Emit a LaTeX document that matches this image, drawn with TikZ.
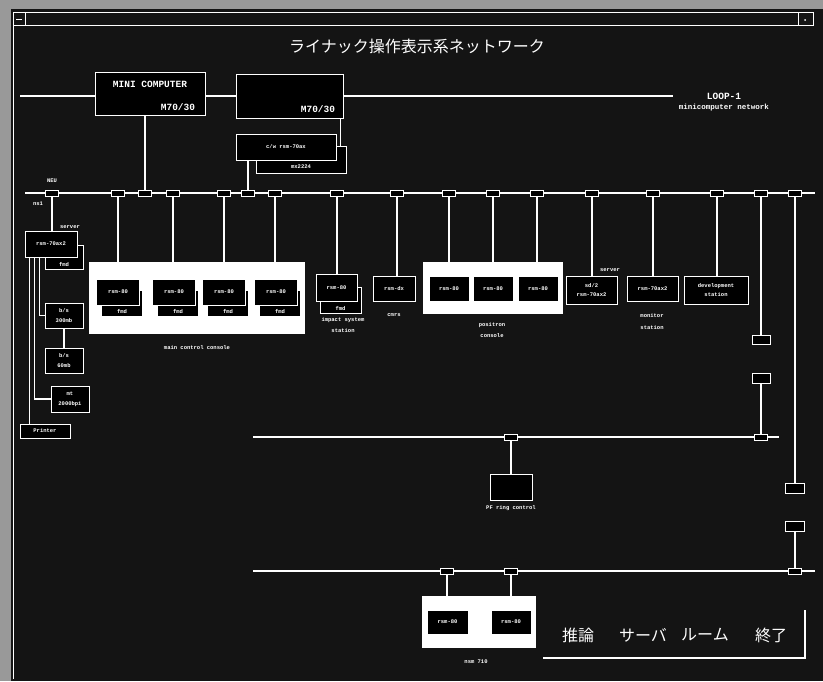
\documentclass[tikz,border=0pt]{standalone}
\usepackage{fontspec}
\setmonofont{Liberation Mono}
\newfontfamily\jpfont{Noto Sans CJK JP}

\begin{document}
\begin{tikzpicture}[x=1pt,y=-1pt,
  sz/.style 2 args={minimum width=#1pt, minimum height=#2pt},
  box/.style={draw=white, line width=1pt, fill=black, inner sep=0pt, align=center, text=white, font=\ttfamily\bfseries\fontsize{5.5}{6.5}\selectfont},
  tap/.style={draw=white, line width=0.9pt, fill=black, minimum width=13pt, minimum height=6pt, inner sep=0pt},
  sbox/.style={draw=white, line width=0.9pt, fill=black, inner sep=0pt},
  panel/.style={fill=white, inner sep=0pt},
  lbl/.style={text=white, inner sep=0pt, align=center, font=\ttfamily\bfseries\fontsize{5.5}{6.5}\selectfont},
  big/.style={font=\ttfamily\bfseries\fontsize{9.5}{10}\selectfont},
  wire/.style={white, line width=1.2pt},
  bus/.style={white, line width=2.4pt},
  jp/.style={text=white, inner sep=0pt, font=\jpfont\fontsize{16}{16}\selectfont}]
\useasboundingbox (0,0) rectangle (823,681);
\fill[black!40] (0,0) rectangle (823,681);
\fill[black!92] (11,9) rectangle (823,681);
\draw[white, line width=1pt] (13,12) -- (813,12) (13,25) -- (813,25) (13,12) -- (13,679);
\draw[white, line width=1pt] (13,12) rectangle (25,25) (798,12) rectangle (813,25) (16,19) -- (22,19);
\fill[white] (805,20) circle (1pt);

\node[jp] (title) at (417,46) {ライナック操作表示系ネットワーク};

% loop-1
\coordinate (loopW) at (20,96);
\coordinate (loopE) at (673,96);
\node[box, sz={110}{43}] (mini) at (150,93.5) {};
\node[lbl, big] at (150,84) {MINI COMPUTER};
\node[lbl, big] at (178,107) {M70/30};
\node[box, sz={107}{44}] (m2) at (289.5,96) {};
\node[lbl, big] at (318,109) {M70/30};
\draw[bus] (loopW) -- (loopW -| mini.west) (mini.east |- loopW) -- (m2.west |- loopW) (m2.east |- loopW) -- (loopE);
\node[lbl, big] at (724,96) {LOOP-1};
\node[lbl, font=\ttfamily\bfseries\fontsize{7.5}{8}\selectfont] at (724,108) {minicomputer network};

\node[box, sz={90}{27}] (mx) at (301,159.5) {};
\node[lbl] at (301,167) {mx2224};
\node[box, sz={100}{26}] (cw) at (286,147) {c/w rsm-70ax};
\draw[wire] ([xshift=-3pt]m2.south east) -- ([xshift=-3pt]m2.south east |- mx.north);

% main bus
\coordinate (busW) at (25,193);
\coordinate (busE) at (815,193);
\draw[bus] (busW) -- (busE);
\foreach \x [count=\i] in {52,118,145,173,224,248,275,337,397,449,493,537,592,653,717,761,795}
  \node[tap] (t\i) at (\x,193) {};
\draw[wire] (mini.south -| t3) -- (t3.north);
\draw[wire] (cw.south -| t6) -- (t6.north);
\node[lbl] at (52,181) {NEU};
\node[lbl] at (38,204) {ns1};

% server side
\node[box, sz={38}{24}] (sfmd) at (64,257) {};
\node[lbl] at (64,264) {fmd};
\node[box, sz={52}{26}] (srv) at (51,244) {rsm-70ax2};
\node[lbl] at (70,227) {server};
\draw[wire] (t1.south) -- (t1 |- srv.north);
\node[box, sz={38}{25}] (bs1) at (64,315.5) {b/s\\[3pt]300mb};
\node[box, sz={38}{25}] (bs2) at (64,360.5) {b/s\\[3pt]60mb};
\node[box, sz={38}{26}] (mt) at (70,399) {mt\\[3pt]2000bpi};
\node[box, sz={50}{14}] (prt) at (45,431) {Printer};
\draw[wire] (bs1.south) -- (bs2.north);
\draw[wire] ([xshift=5pt]srv.south west) -- ([xshift=5pt]srv.south west |- prt.north);
\draw[wire] ([xshift=10pt]srv.south west) |- (mt.west);
\draw[wire] ([xshift=15pt]srv.south west) |- (bs1.west);

% main control console
\node[panel, sz={216}{72}] (mcc) at (197,298) {};
\foreach \i in {2,4,5,7}
  \draw[wire] (t\i.south) -- (t\i |- mcc.north);
\foreach \cx [count=\i] in {118,174,224,276} {
  \node[box, sz={41}{26}] (mf\i) at (\cx+4,303) {};
  \node[lbl] at (\cx+4,311) {fmd};
  \node[box, sz={43}{26}] (mr\i) at (\cx,292) {rsm-80};
}
\node[lbl] at (197,348) {main control console};

% impact, crt
\node[box, sz={41}{26}] (impf) at (340.5,300) {};
\node[lbl] at (340.5,308) {fmd};
\node[box, sz={41}{27}] (imp) at (336.5,287.5) {rsm-80};
\draw[wire] (t8.south) -- (t8 |- imp.north);
\node[lbl] at (343,325) {impact system\\[4pt]station};
\node[box, sz={42}{25}] (dx) at (394,288.5) {rsm-dx};
\draw[wire] (t9.south) -- (t9 |- dx.north);
\node[lbl] at (394,315) {cmrs};

% positron console
\node[panel, sz={140}{52}] (pcon) at (493,288) {};
\foreach \i in {10,11,12}
  \draw[wire] (t\i.south) -- (t\i |- pcon.north);
\foreach \cx [count=\i] in {449,493,538}
  \node[box, sz={40}{25}] (pc\i) at (\cx,288.5) {rsm-80};
\node[lbl] at (492,330) {positron\\[4pt]console};

% right stations
\node[box, sz={51}{28}] (sd2) at (591.5,290) {sd/2\\[3pt]rsm-70ax2};
\node[lbl] at (610,270) {server};
\draw[wire] (t13.south) -- (t13 |- sd2.north);
\node[box, sz={51}{25}] (mon) at (652.5,288.5) {rsm-70ax2};
\draw[wire] (t14.south) -- (t14 |- mon.north);
\node[lbl] at (652,321.5) {monitor\\[6pt]station};
\node[box, sz={64}{28}] (dev) at (716,290) {development\\[3pt]station};
\draw[wire] (t15.south) -- (t15 |- dev.north);

% lower loops
\node[sbox, sz={18}{9}] (rb1) at (761,339.5) {};
\node[sbox, sz={18}{10}] (rb2) at (761,378) {};
\node[sbox, sz={19}{10}] (rb3) at (795,488) {};
\node[sbox, sz={19}{10}] (rb4) at (795,526) {};
\draw[wire] (t16.south) -- (rb1.north);
\draw[wire] (t17.south) -- (rb3.north);

\coordinate (b1W) at (253,437);
\coordinate (b1E) at (779,437);
\draw[bus] (b1W) -- (b1E);
\node[tap] (u1) at (511,437) {};
\node[tap] (u2) at (761,437) {};
\draw[wire] (rb2.south) -- (u2.north);
\node[box, sz={42}{26}] (pf) at (511,487) {};
\draw[wire] (u1.south) -- (pf.north);
\node[lbl] at (511,508) {PF ring control};

\coordinate (b2W) at (253,571);
\coordinate (b2E) at (815,571);
\draw[bus] (b2W) -- (b2E);
\node[tap] (v1) at (447,571) {};
\node[tap] (v2) at (511,571) {};
\node[tap] (v3) at (795,571) {};
\draw[wire] (rb4.south) -- (v3.north);
\node[panel, sz={114}{52}] (nsm) at (479,622) {};
\draw[wire] (v1.south) -- (v1 |- nsm.north);
\draw[wire] (v2.south) -- (v2 |- nsm.north);
\node[box, sz={41}{24}] (n1) at (447.5,622) {rsm-80};
\node[box, sz={40}{24}] (n2) at (511,622) {rsm-80};
\node[lbl] at (476,662) {nsm 710};

% menu
\node[jp] (m1) at (578,635) {推論};
\node[jp] (m2t) at (643,635) {サーバ};
\node[jp] (m3) at (705,635) {ルーム};
\node[jp] (m4) at (771,635) {終了};
\coordinate (menuL) at (543,658);
\coordinate (menuC) at (805,658);
\coordinate (menuT) at (805,610);
\draw[white, line width=1.6pt] (menuL) -- (menuC) -- (menuT);
\end{tikzpicture}
\end{document}
